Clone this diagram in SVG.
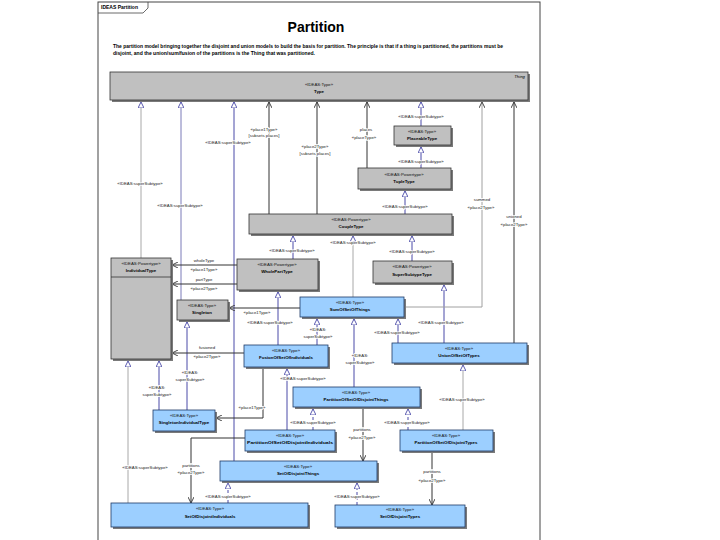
<svg xmlns="http://www.w3.org/2000/svg" width="720" height="540" viewBox="0 0 720 540">
<style>
.frame{fill:#fff;stroke:#444;stroke-width:1}
.sh{fill:#7a7a7a}
.g{fill:#c0c0c0;stroke:#333;stroke-width:0.8}
.b{fill:#9ccfff;stroke:#1f3a66;stroke-width:0.8}
.st{font-family:"Liberation Sans",Arial,sans-serif;font-size:4.3px;text-anchor:middle;fill:#111}
.nm{font-family:"Liberation Sans",Arial,sans-serif;font-size:4.4px;font-weight:bold;text-anchor:middle;fill:#000}
.lb{font-family:"Liberation Sans",Arial,sans-serif;font-size:4.3px;text-anchor:middle;fill:#222;paint-order:stroke;stroke:#fff;stroke-width:1.6px}
.gen{stroke:#4a4aa8;stroke-width:1;fill:none;marker-end:url(#tri)}
.genl{stroke:#a8a8a8;stroke-width:1;fill:none;marker-end:url(#tri)}
.gend{stroke:#4a4aa8;stroke-width:1;fill:none;stroke-dasharray:3 2;marker-end:url(#tri)}
.asc{stroke:#333;stroke-width:1;fill:none;marker-end:url(#opn)}
.ascl{stroke:#a0a0a0;stroke-width:1;fill:none;marker-end:url(#opn)}
</style>
<defs>
<marker id="tri" viewBox="0 0 10 10" refX="10" refY="5" markerWidth="6" markerHeight="6" markerUnits="userSpaceOnUse" orient="auto">
<path d="M0,0 L10,5 L0,10 z" fill="#fff" stroke="#4a4aa8" stroke-width="1.5"/>
</marker>
<marker id="opn" viewBox="0 0 10 10" refX="10" refY="5" markerWidth="6" markerHeight="6" markerUnits="userSpaceOnUse" orient="auto">
<path d="M0,0 L10,5 L0,10" fill="none" stroke="#333" stroke-width="1.5"/>
</marker>
</defs>
<rect x="0" y="0" width="720" height="540" fill="#fff"/>
<rect class="frame" x="98" y="2" width="442" height="545"/>
<path d="M98,13 L143,13 L148,8 L148,2" fill="none" stroke="#444" stroke-width="0.8"/>
<text x="101" y="9" font-family="'Liberation Sans',Arial,sans-serif" font-size="5" font-weight="bold">IDEAS Partition</text>
<text x="316" y="32" font-family="'Liberation Sans',Arial,sans-serif" font-size="14" font-weight="bold" text-anchor="middle">Partition</text>
<text x="113" y="48" font-family="'Liberation Sans',Arial,sans-serif" font-size="4.6" font-weight="bold" textLength="390" lengthAdjust="spacingAndGlyphs">The partition model bringing together the disjoint and union models to build the basis for partition. The principle is that if a thing is partitioned, the partitions must be</text>
<text x="113" y="55" font-family="'Liberation Sans',Arial,sans-serif" font-size="4.6" font-weight="bold" textLength="202" lengthAdjust="spacingAndGlyphs">disjoint, and the union/sum/fusion of the partitions is the Thing that was partitioned.</text>

<g id="connectors">
<!-- generalizations -->
<path class="genl" d="M141,258 V102"/>
<path class="gen" d="M181,300 V102" style="stroke:#7a7ab8"/>
<path class="gen" d="M234,461 V102"/>
<path class="gen" d="M421,126 V102"/>
<path class="gen" d="M421,168 V147"/>
<path class="gen" d="M405,214 V191"/>
<path class="gen" d="M293,259 V236"/>
<path class="genl" d="M353,297 V236"/>
<path class="gen" d="M412,261 V236"/>
<path class="gen" d="M278,345 V292"/>
<path class="gen" d="M317,345 V319"/>
<path class="gen" d="M354,387 V319"/>
<path class="gen" d="M398,343 V319"/>
<path class="gen" d="M444,343 V285"/>
<path class="genl" d="M128,503 V361"/>
<path class="gen" d="M159,410 V361"/>
<path class="gen" d="M187,410 V322"/>
<path class="gen" d="M287,430 V369"/>
<path class="gend" d="M313,430 V409"/>
<path class="gend" d="M408,430 V409"/>
<path class="genl" d="M463,430 V365"/>
<path class="gend" d="M228,503 V483"/>
<path class="gend" d="M357,505 V483"/>
<!-- associations -->
<path class="asc" d="M269,214 V102"/>
<path class="asc" d="M317,214 V102"/>
<path class="asc" d="M367,168 V102"/>
<path class="ascl" d="M404,307 H482 V102"/>
<path class="asc" d="M514,343 V102"/>
<path class="asc" d="M300,308 H229"/>
<path class="asc" d="M237,265 H172"/>
<path class="asc" d="M237,284 H172"/>
<path class="asc" d="M244,353 H172"/>
<path class="asc" d="M263,367 V418 H216"/>
<path class="asc" d="M363,407 V461"/>
<path class="asc" d="M245,438 H191 V503"/>
<path class="asc" d="M432,451 V505"/>
<!-- labels -->
<text class="lb" x="140" y="185">«IDEAS:superSubtype»</text>
<text class="lb" x="180" y="207">«IDEAS:superSubtype»</text>
<text class="lb" x="228" y="144">«IDEAS:superSubtype»</text>
<text class="lb" x="421" y="118">«IDEAS:superSubtype»</text>
<text class="lb" x="421" y="163">«IDEAS:superSubtype»</text>
<text class="lb" x="405" y="208">«IDEAS:superSubtype»</text>
<text class="lb" x="292" y="252">«IDEAS:superSubtype»</text>
<text class="lb" x="353" y="244">«IDEAS:superSubtype»</text>
<text class="lb" x="412" y="253">«IDEAS:superSubtype»</text>
<text class="lb" x="270" y="324">«IDEAS:superSubtype»</text>
<text class="lb" x="318" y="331">«IDEAS:</text>
<text class="lb" x="318" y="338">superSubtype»</text>
<text class="lb" x="360" y="357">«IDEAS:</text>
<text class="lb" x="360" y="364">superSubtype»</text>
<text class="lb" x="397" y="334">«IDEAS:superSubtype»</text>
<text class="lb" x="441" y="324">«IDEAS:superSubtype»</text>
<text class="lb" x="145" y="469">«IDEAS:superSubtype»</text>
<text class="lb" x="157" y="389">«IDEAS:</text>
<text class="lb" x="157" y="396">superSubtype»</text>
<text class="lb" x="190" y="374">«IDEAS:</text>
<text class="lb" x="190" y="381">superSubtype»</text>
<text class="lb" x="303" y="380">«IDEAS:superSubtype»</text>
<text class="lb" x="313" y="424">«IDEAS:superSubtype»</text>
<text class="lb" x="407" y="424">«IDEAS:superSubtype»</text>
<text class="lb" x="462" y="401">«IDEAS:superSubtype»</text>
<text class="lb" x="228" y="498">«IDEAS:superSubtype»</text>
<text class="lb" x="357" y="498">«IDEAS:superSubtype»</text>
<text class="lb" x="264" y="131">«place1Type»</text>
<text class="lb" x="264" y="137">[subsets places]</text>
<text class="lb" x="315" y="148">«place2Type»</text>
<text class="lb" x="315" y="155">[subsets places]</text>
<text class="lb" x="366" y="131">places</text>
<text class="lb" x="364" y="139">«placeType»</text>
<text class="lb" x="482" y="201">summed</text>
<text class="lb" x="481" y="209">«place2Type»</text>
<text class="lb" x="514" y="218">unioned</text>
<text class="lb" x="514" y="226">«place2Type»</text>
<text class="lb" x="257" y="314">«place1Type»</text>
<text class="lb" x="204" y="262">wholeType</text>
<text class="lb" x="204" y="271">«place1Type»</text>
<text class="lb" x="204" y="281">partType</text>
<text class="lb" x="204" y="290">«place2Type»</text>
<text class="lb" x="207" y="349">fusioned</text>
<text class="lb" x="207" y="358">«place2Type»</text>
<text class="lb" x="252" y="409">«place1Type»</text>
<text class="lb" x="362" y="431">partitions</text>
<text class="lb" x="362" y="439">«place2Type»</text>
<text class="lb" x="191" y="467">partitions</text>
<text class="lb" x="191" y="474">«place2Type»</text>
<text class="lb" x="432" y="473">partitions</text>
<text class="lb" x="432" y="482">«place2Type»</text>
</g>

<g id="Type">
<rect class="sh" x="112" y="74" width="418" height="28"/>
<rect class="g" x="110" y="72" width="418" height="28"/>
<text class="st" x="319" y="86">«IDEAS:Type»</text>
<text class="nm" x="319" y="93">Type</text>
<text x="525" y="78" font-family="'Liberation Sans',Arial,sans-serif" font-size="4.3" font-style="italic" text-anchor="end">Thing</text>
</g>
<g id="PlaceableType">
<rect class="sh" x="396" y="128" width="57" height="19"/>
<rect class="g" x="394" y="126" width="57" height="19"/>
<text class="st" x="422" y="133">«IDEAS:Type»</text>
<text class="nm" x="422" y="140">PlaceableType</text>
</g>
<g id="TupleType">
<rect class="sh" x="360" y="170" width="93" height="21"/>
<rect class="g" x="358" y="168" width="93" height="21"/>
<text class="st" x="404" y="176">«IDEAS:Powertype»</text>
<text class="nm" x="404" y="183">TupleType</text>
</g>
<g id="CoupleType">
<rect class="sh" x="251" y="216" width="203" height="20"/>
<rect class="g" x="249" y="214" width="203" height="20"/>
<text class="st" x="351" y="221">«IDEAS:Powertype»</text>
<text class="nm" x="351" y="228">CoupleType</text>
</g>
<g id="IndividualType">
<rect class="sh" x="113" y="260" width="60" height="101"/>
<rect class="g" x="111" y="258" width="60" height="101"/>
<line x1="111" y1="277" x2="171" y2="277" stroke="#333" stroke-width="0.8"/>
<text class="st" x="141" y="265">«IDEAS:Powertype»</text>
<text class="nm" x="141" y="272">IndividualType</text>
</g>
<g id="WholePartType">
<rect class="sh" x="239" y="261" width="81" height="31"/>
<rect class="g" x="237" y="259" width="81" height="31"/>
<text class="st" x="277" y="266">«IDEAS:Powertype»</text>
<text class="nm" x="277" y="273">WholePartType</text>
</g>
<g id="SuperSubtypeType">
<rect class="sh" x="375" y="263" width="79" height="22"/>
<rect class="g" x="373" y="261" width="79" height="22"/>
<text class="st" x="412" y="268">«IDEAS:Powertype»</text>
<text class="nm" x="412" y="276">SuperSubtypeType</text>
</g>
<g id="Singleton">
<rect class="sh" x="179" y="302" width="51" height="20"/>
<rect class="g" x="177" y="300" width="51" height="20"/>
<text class="st" x="202" y="307">«IDEAS:Type»</text>
<text class="nm" x="202" y="314">Singleton</text>
</g>
<g id="SumOfSetOfThings">
<rect class="sh" x="302" y="299" width="104" height="20"/>
<rect class="b" x="300" y="297" width="104" height="20"/>
<text class="st" x="350" y="304">«IDEAS:Type»</text>
<text class="nm" x="350" y="311">SumOfSetOfThings</text>
</g>
<g id="FusionOfSetOfIndividuals">
<rect class="sh" x="246" y="347" width="84" height="22"/>
<rect class="b" x="244" y="345" width="84" height="22"/>
<text class="st" x="286" y="352">«IDEAS:Type»</text>
<text class="nm" x="286" y="359">FusionOfSetOfIndividuals</text>
</g>
<g id="UnionOfSetOfTypes">
<rect class="sh" x="394" y="345" width="135" height="20"/>
<rect class="b" x="392" y="343" width="135" height="20"/>
<text class="st" x="459" y="350">«IDEAS:Type»</text>
<text class="nm" x="459" y="357">UnionOfSetOfTypes</text>
</g>
<g id="SingletonIndividualType">
<rect class="sh" x="155" y="412" width="62" height="21"/>
<rect class="b" x="153" y="410" width="62" height="21"/>
<text class="st" x="184" y="417">«IDEAS:Type»</text>
<text class="nm" x="184" y="424">SingletonIndividualType</text>
</g>
<g id="PartitionOfSetOfDisjointThings">
<rect class="sh" x="295" y="389" width="127" height="20"/>
<rect class="b" x="293" y="387" width="127" height="20"/>
<text class="st" x="356" y="394">«IDEAS:Type»</text>
<text class="nm" x="356" y="401">PartitionOfSetOfDisjointThings</text>
</g>
<g id="PartitionOfSetOfDisjointIndividuals">
<rect class="sh" x="247" y="432" width="90" height="21"/>
<rect class="b" x="245" y="430" width="90" height="21"/>
<text class="st" x="290" y="437">«IDEAS:Type»</text>
<text class="nm" x="290" y="444" textLength="86" lengthAdjust="spacingAndGlyphs">PartitionOfSetOfDisjointIndividuals</text>
</g>
<g id="PartitionOfSetOfDisjointTypes">
<rect class="sh" x="402" y="432" width="93" height="21"/>
<rect class="b" x="400" y="430" width="93" height="21"/>
<text class="st" x="446" y="437">«IDEAS:Type»</text>
<text class="nm" x="446" y="444">PartitionOfSetOfDisjointTypes</text>
</g>
<g id="SetOfDisjointThings">
<rect class="sh" x="222" y="463" width="157" height="20"/>
<rect class="b" x="220" y="461" width="157" height="20"/>
<text class="st" x="298" y="468">«IDEAS:Type»</text>
<text class="nm" x="298" y="475">SetOfDisjointThings</text>
</g>
<g id="SetOfDisjointIndividuals">
<rect class="sh" x="113" y="505" width="197" height="24"/>
<rect class="b" x="111" y="503" width="197" height="24"/>
<text class="st" x="210" y="510">«IDEAS:Type»</text>
<text class="nm" x="210" y="518">SetOfDisjointIndividuals</text>
</g>
<g id="SetOfDisjointTypes">
<rect class="sh" x="337" y="507" width="130" height="22"/>
<rect class="b" x="335" y="505" width="130" height="22"/>
<text class="st" x="400" y="511">«IDEAS:Type»</text>
<text class="nm" x="400" y="518">SetOfDisjointTypes</text>
</g>
</svg>
